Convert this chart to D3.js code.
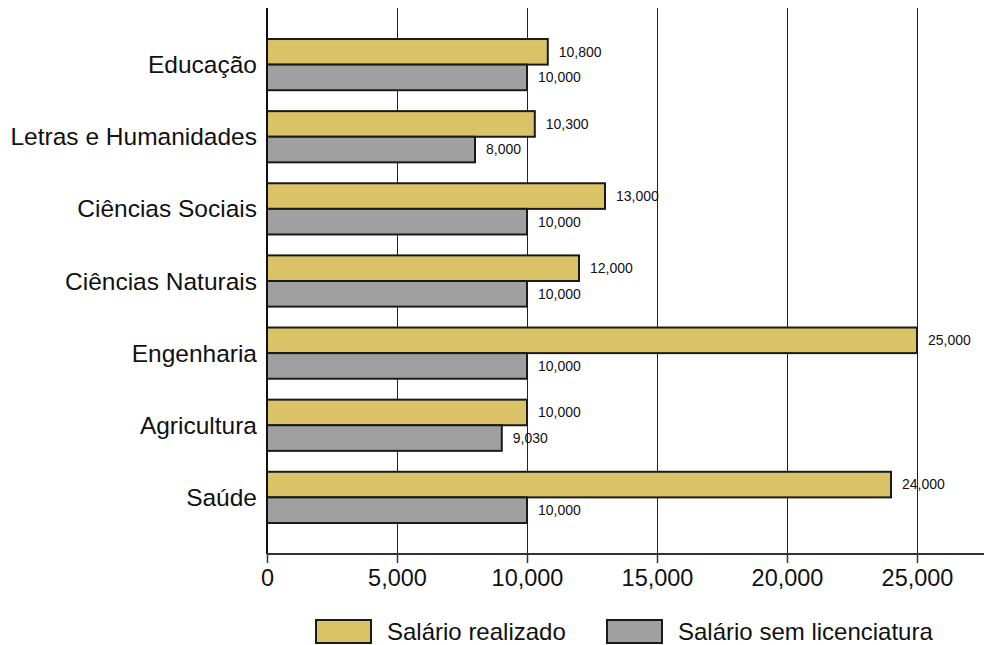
<!DOCTYPE html>
<html>
<head>
<meta charset="utf-8">
<script src="https://cdn.jsdelivr.net/npm/d3@7"></script>
<style>
  body { margin: 0; background: #fff; }
  svg { font-family: "Liberation Sans", Arial, sans-serif; }
</style>
</head>
<body>
<svg width="984" height="645"></svg>
<script>
var categories = ["Educação", "Letras e Humanidades", "Ciências Sociais", "Ciências Naturais", "Engenharia", "Agricultura", "Saúde"];
var realizado = [10800, 10300, 13000, 12000, 25000, 10000, 24000];
var semLicenciatura = [10000, 8000, 10000, 10000, 10000, 9030, 10000];
var seriesNames = ["Salário realizado", "Salário sem licenciatura"];
var seriesColors = ["#d9c366", "#a0a0a0"];
var xTicks = [0, 5000, 10000, 15000, 20000, 25000];

var svg = d3.select("svg"),
  width = +svg.attr("width"),
  height = +svg.attr("height");

var plotLeft = 267, plotTop = 8, axisY = 554;

var x = d3.scaleLinear().domain([0, 27500]).range([plotLeft, 982]);
var y = d3.scaleBand().domain(categories).range([plotTop, axisY])
  .paddingInner(0.29).paddingOuter(0.43);
var sub = d3.scaleBand().domain([0, 1]).range([0, y.bandwidth()]);

var fmt = d3.format(",");

// vertical grid lines
svg.append("g")
  .selectAll("line")
  .data(xTicks.slice(1))
  .enter().append("line")
  .attr("x1", function(d) { return Math.round(x(d)) + 0.5; })
  .attr("x2", function(d) { return Math.round(x(d)) + 0.5; })
  .attr("y1", plotTop)
  .attr("y2", axisY)
  .attr("stroke", "#222")
  .attr("stroke-width", 1);

// bars
var rows = categories.map(function(c, i) {
  return { cat: c, values: [realizado[i], semLicenciatura[i]] };
});

var group = svg.append("g")
  .selectAll("g")
  .data(rows)
  .enter().append("g")
  .attr("transform", function(d) { return "translate(0," + y(d.cat) + ")"; });

group.selectAll("rect")
  .data(function(d) { return d.values; })
  .enter().append("rect")
  .attr("x", x(0))
  .attr("y", function(d, i) { return sub(i); })
  .attr("width", function(d) { return x(d) - x(0); })
  .attr("height", sub.bandwidth())
  .attr("fill", function(d, i) { return seriesColors[i]; })
  .attr("stroke", "#1a1a1a")
  .attr("stroke-width", 2);

group.selectAll("text")
  .data(function(d) { return d.values; })
  .enter().append("text")
  .attr("x", function(d) { return x(d) + 11; })
  .attr("y", function(d, i) { return sub(i) + sub.bandwidth() / 2; })
  .attr("dy", "0.35em")
  .attr("font-size", 14)
  .attr("fill", "#111")
  .text(function(d) { return fmt(d); });

// left axis line + category labels
svg.append("line")
  .attr("x1", x(0)).attr("x2", x(0))
  .attr("y1", plotTop).attr("y2", axisY)
  .attr("stroke", "#111").attr("stroke-width", 2);

svg.append("g")
  .selectAll("text")
  .data(categories)
  .enter().append("text")
  .attr("x", 257)
  .attr("y", function(d) { return y(d) + y.bandwidth() / 2; })
  .attr("dy", "0.35em")
  .attr("text-anchor", "end")
  .attr("font-size", 24.5)
  .attr("fill", "#111")
  .text(function(d) { return d; });

// x axis
var xAxis = svg.append("g")
  .attr("transform", "translate(0," + axisY + ")")
  .call(d3.axisBottom(x).tickValues(xTicks).tickFormat(fmt).tickSize(9).tickPadding(6));

xAxis.select(".domain").attr("d", "M" + x(0) + ",0H984").attr("stroke", "#333").attr("stroke-width", 2);
xAxis.selectAll(".tick line").attr("stroke", "#333").attr("stroke-width", 1.5);
xAxis.selectAll(".tick text")
  .attr("font-size", 23.5)
  .attr("font-family", "Liberation Sans, Arial, sans-serif")
  .attr("fill", "#111");

// legend
var legendX = [316, 607];
var legend = svg.append("g")
  .selectAll("g")
  .data(seriesNames)
  .enter().append("g")
  .attr("transform", function(d, i) { return "translate(" + legendX[i] + ",620)"; });

legend.append("rect")
  .attr("width", 55)
  .attr("height", 23)
  .attr("fill", function(d, i) { return seriesColors[i]; })
  .attr("stroke", "#1a1a1a")
  .attr("stroke-width", 2);

legend.append("text")
  .attr("x", 71)
  .attr("y", 12)
  .attr("dy", "0.35em")
  .attr("font-size", 24)
  .attr("fill", "#111")
  .text(function(d) { return d; });
</script>
</body>
</html>
